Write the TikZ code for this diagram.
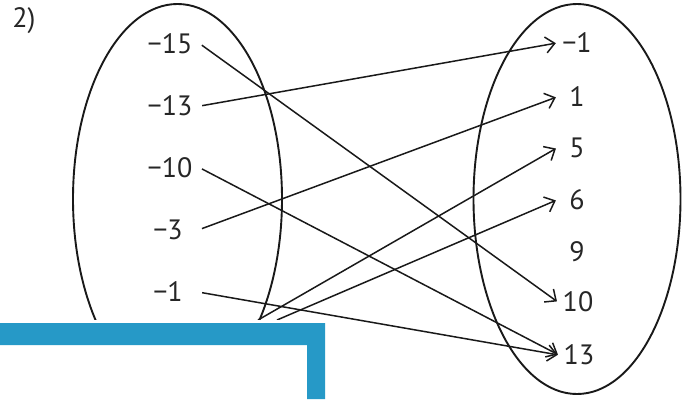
\documentclass[tikz,border=0pt]{standalone}
\usepackage{fontspec}
\setmainfont{PT Sans}
\usetikzlibrary{arrows.meta}
\definecolor{bandblue}{RGB}{38,153,199}
\tikzset{
  setline/.style={line width=1.9pt, black!90},
  maparrow/.style={line width=1.5pt, black!90, -{Straight Barb[length=9pt,width=16pt,line width=1.5pt]}},
  leftlab/.style={inner sep=0pt, minimum width=60pt, font=\fontsize{28}{32}\selectfont, text=black!85},
  rightlab/.style={inner sep=0pt, minimum width=40pt, font=\fontsize{28}{32}\selectfont, text=black!85},
}
\begin{document}
\begin{tikzpicture}[x=1pt,y=-1pt]
\useasboundingbox (0,0) rectangle (690,399);
% sets
\draw[setline] (177.5,199) ellipse [x radius=104.5, y radius=195];
\draw[setline] (577,199) ellipse [x radius=103.5, y radius=195];
% label
\node[font=\fontsize{28}{32}\selectfont, text=black!85, inner sep=0pt] (num) at (24,21) {2)};
% domain
\node[leftlab] (a1) at (170,44) {−15};
\node[leftlab] (a2) at (170,106) {−13};
\node[leftlab] (a3) at (170,168) {−10};
\node[leftlab] (a4) at (168,230) {−3};
\node[leftlab] (a5) at (168,292) {−1};
% codomain
\node[rightlab] (b1) at (577,43) {−1};
\node[rightlab] (b2) at (577,97) {1};
\node[rightlab] (b3) at (577,148) {5};
\node[rightlab] (b4) at (577,200) {6};
\node[rightlab] (b5) at (577,252) {9};
\node[rightlab] (b6) at (578,302) {10};
\node[rightlab] (b7) at (579,355) {13};
% hidden sources
\coordinate (h1) at (258,320);
\coordinate (h2) at (277,320);
% arrows
\draw[maparrow, shorten <=2pt, shorten >=1pt] (a1.east) -- (b6.west);
\draw[maparrow, shorten <=2pt, shorten >=1pt] (a2.east) -- (b1.west);
\draw[maparrow, shorten <=2pt, shorten >=1pt] (a3.east) -- (b7.west);
\draw[maparrow, shorten <=4pt, shorten >=1pt] (a4.east) -- (b2.west);
\draw[maparrow, shorten <=4pt, shorten >=1pt] (a5.east) -- (b7.west);
\draw[maparrow, shorten >=1pt] (h1) -- (b3.west);
\draw[maparrow, shorten >=1pt] (h2) -- (b4.west);
% overlay
\fill[white] (0,320) rectangle (329,399);
\fill[bandblue] (0,323) -- (325,323) -- (325,399) -- (307,399) -- (307,345) -- (0,345) -- cycle;
\end{tikzpicture}
\end{document}
